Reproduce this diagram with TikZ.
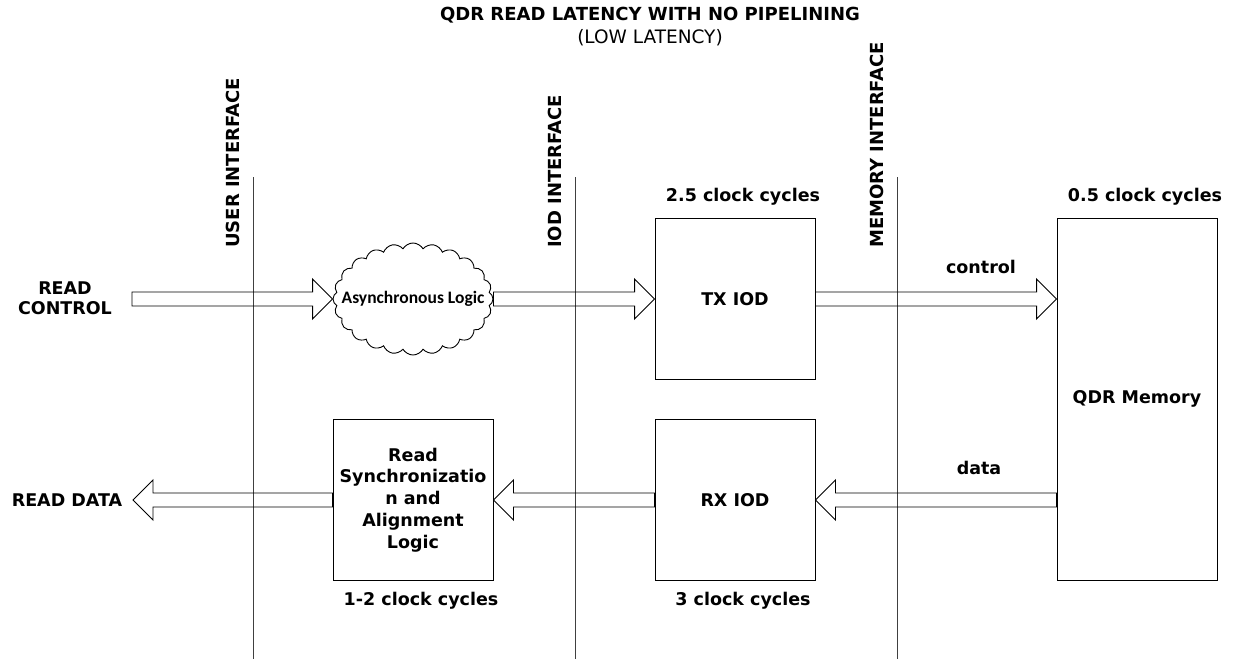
\documentclass[tikz,border=0pt]{standalone}
\usepackage{fontspec}
\setmainfont{DejaVu Sans}
\newfontfamily\cloudfont{Carlito}
\usetikzlibrary{calc, shapes.symbols}
\tikzset{
  block/.style={draw, line width=0.9pt, minimum width=160pt, minimum height=161pt,
    inner sep=0pt, align=center, font=\bfseries\fontsize{17.5}{21.8}\selectfont},
  divider/.style={line width=1pt, black!75},
  iface/.style={rotate=90, anchor=west, inner sep=0pt, font=\bfseries\fontsize{18}{20}\selectfont},
  lbl/.style={inner sep=0pt, align=center, font=\bfseries\fontsize{17.5}{19.5}\selectfont},
  fatarrow/.style={line width=0.9pt, to path={
    let \p1=(\tikztostart), \p2=(\tikztotarget),
        \p3=($(\x2,\y1)!20pt!(\x1,\y1)$) in
    (\x1,\y1+7pt) -- (\x3,\y1+7pt) -- (\x3,\y1+20pt) -- (\x2,\y1)
    -- (\x3,\y1-20pt) -- (\x3,\y1-7pt) -- (\x1,\y1-7pt) -- cycle}}
}
\begin{document}
\begin{tikzpicture}[x=1pt, y=-1pt]
  \useasboundingbox (0,0) rectangle (1234,659);
  % title
  \node[font=\bfseries\fontsize{18}{20}\selectfont] (title) at (650,15) {QDR READ LATENCY WITH NO PIPELINING};
  \node[font=\fontsize{18.5}{20}\selectfont] (subtitle) at (650,38) {(LOW LATENCY)};
  % interfaces
  \foreach \x/\nm/\txt in {253/user/USER INTERFACE, 575/iod/IOD INTERFACE, 897/mem/MEMORY INTERFACE} {
    \draw[divider] (\x,177) coordinate (\nm top) -- (\x,659) coordinate (\nm bot);
    \node[iface] (\nm lbl) at (\x-20,248) {\txt};
  }
  % blocks
  \node[cloud, draw, line width=0.9pt, cloud puffs=24, cloud puff arc=120, cloud ignores aspect,
    minimum width=160pt, minimum height=112pt, inner sep=0pt] (async) at (413,299) {};
  \node[font=\cloudfont\bfseries\fontsize{17.5}{20}\selectfont, inner sep=0pt] (asynctxt) at (async) {Asynchronous Logic};
  \node[block] (tx) at (735,299) {TX IOD};
  \node[block] (rx) at (735,500) {RX IOD};
  \node[block] (sync) at (413,500) {Read\\ Synchronizatio\\ n and\\ Alignment\\ Logic};
  \node[block, minimum height=362pt] (qdr) at (1137,399) {QDR Memory};
  % latencies
  \node[lbl] (txcyc) at (743,197) {2.5 clock cycles};
  \node[lbl] (qdrcyc) at (1145,197) {0.5 clock cycles};
  \node[lbl] (synccyc) at (421,601) {1-2 clock cycles};
  \node[lbl] (rxcyc) at (743,601) {3 clock cycles};
  % ports
  \node[lbl] (rdctl) at (65,298) {READ\\CONTROL};
  \node[lbl] (rddata) at (67,500) {READ DATA};
  \coordinate (ctlin) at (132,299);
  \coordinate (dataout) at (133,500);
  % data path
  \draw[fatarrow] (ctlin) to (async.west);
  \draw[fatarrow] (async.east |- tx.west) to (tx.west);
  \draw[fatarrow] (tx.east) to (qdr.west |- tx.east);
  \draw[fatarrow] (qdr.west |- rx.east) to (rx.east);
  \draw[fatarrow] (rx.west) to (sync.east);
  \draw[fatarrow] (sync.west) to (dataout);
  \node[lbl] (ctllbl) at (981,267) {control};
  \node[lbl] (datalbl) at (979,468) {data};
\end{tikzpicture}
\end{document}
